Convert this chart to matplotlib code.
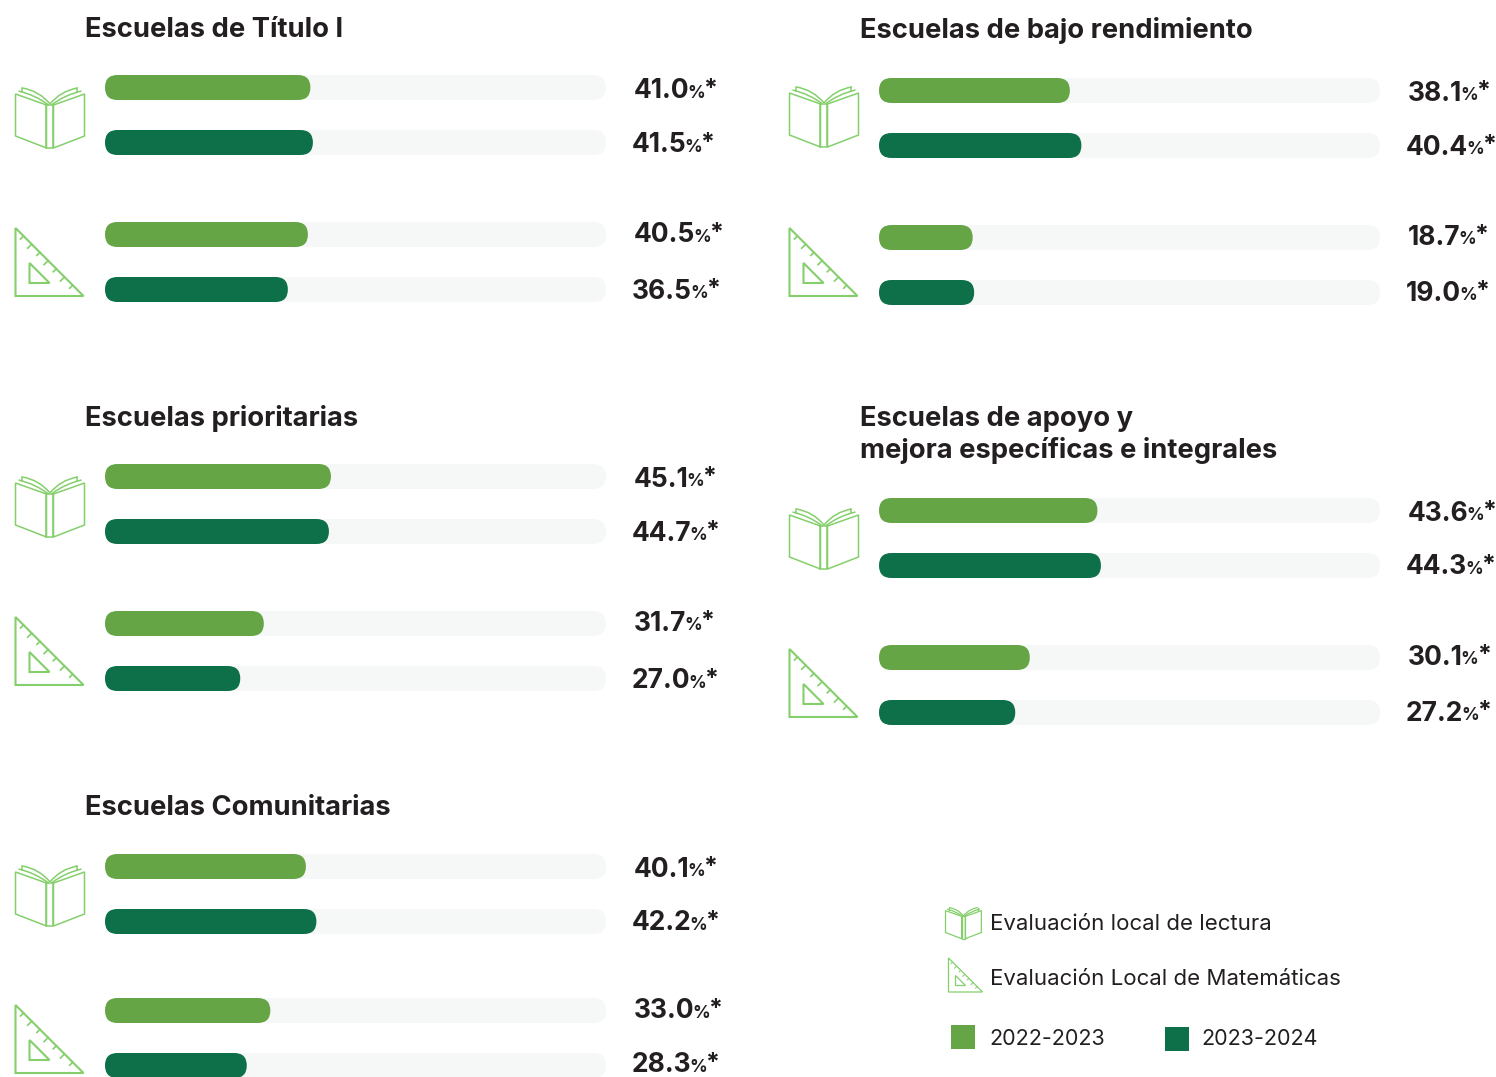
import matplotlib
matplotlib.use('Agg')
import matplotlib.pyplot as plt
from matplotlib.patches import FancyBboxPatch, Rectangle, Polygon
from matplotlib.path import Path
from matplotlib.patches import PathPatch

titulo_i = [41.0, 41.5, 40.5, 36.5]
bajo_rendimiento = [38.1, 40.4, 18.7, 19.0]
prioritarias = [45.1, 44.7, 31.7, 27.0]
apoyo_mejora = [43.6, 44.3, 30.1, 27.2]
comunitarias = [40.1, 42.2, 33.0, 28.3]

titles = ['Escuelas de Título I', 'Escuelas de bajo rendimiento', 'Escuelas prioritarias',
          'Escuelas de apoyo y\nmejora específicas e integrales', 'Escuelas Comunitarias']
legend_icons = ['Evaluación local de lectura', 'Evaluación Local de Matemáticas']
legend_years = ['2022-2023', '2023-2024']

LIGHT = '#65a545'
DARK = '#0d7048'
TRACK = '#f6f8f7'
ICON = '#84cf6c'
INK = '#231f20'
FONT = 'Inter'
BAR_W = 501
BAR_H = 25

fig = plt.figure(figsize=(14.96, 10.77), dpi=100)
ax = fig.add_axes([0, 0, 1, 1])
ax.set_xlim(0, 1496)
ax.set_ylim(1077, 0)
ax.axis('off')


def rounded(x, yc, w, color):
    ax.add_patch(FancyBboxPatch((x, yc - BAR_H / 2 + 0.5), w, BAR_H, boxstyle='round,pad=0,rounding_size=12.5',
                                fc=color, ec='none', mutation_aspect=1))


def book(x, y, s=1.0, lw=1.1):
    def P(pts):
        return [(x + 0.5 + a * s, y + b * s) for a, b in pts]
    for pts in ([(0, 7), (31, 18), (31, 61), (0, 49)],
                [(69, 7), (38, 18), (38, 61), (69, 49)],
                [(31, 18), (38, 18), (38, 61), (31, 61)]):
        ax.add_patch(Polygon(P(pts), closed=True, fc='none', ec=ICON, lw=lw))
    for a, b, c in [((34.5, 17), (24, 4), (7, 1)), ((34.5, 17), (45, 4), (62, 1)),
                    ((33, 18), (20, 8), (3, 4)), ((36, 18), (49, 8), (66, 4))]:
        verts = P([a, b, c])
        ax.add_patch(PathPatch(Path(verts, [Path.MOVETO, Path.CURVE3, Path.CURVE3]), fc='none', ec=ICON, lw=lw))
    ax.plot(*zip(*P([(7, 1), (7, 5)])), color=ICON, lw=lw)
    ax.plot(*zip(*P([(62, 1), (62, 5)])), color=ICON, lw=lw)


def square(x, y, s=1.0, lw=1.5):
    def P(pts):
        return [(x + 0.5 + a * s, y + b * s) for a, b in pts]
    ax.add_patch(Polygon(P([(0, 0), (68, 68), (0, 68)]), closed=True, fc='none', ec=ICON, lw=lw))
    ax.add_patch(Polygon(P([(14, 35), (34, 55), (14, 55)]), closed=True, fc='none', ec=ICON, lw=lw))
    for t in range(7):
        a = 8 + t * 8.2
        k = 4 if t % 2 else 3
        ax.plot(*zip(*P([(a, a), (a - k, a + k)])), color=ICON, lw=lw * 0.8)


def label(x, y, value):
    r = fig.canvas.get_renderer()
    num = ax.text(x, y, f'{value:.1f}', fontsize=19, fontweight='bold', color=INK, family=FONT, va='center', ha='left')
    x1 = ax.transData.inverted().transform(num.get_window_extent(r))[1][0]
    pct = ax.text(x1 - 2, y + 2, '%', fontsize=12.5, fontweight='bold', color=INK, family=FONT, va='center', ha='left')
    x2 = ax.transData.inverted().transform(pct.get_window_extent(r))[1][0]
    ax.text(x2 - 2, y - 2, '*', fontsize=18, fontweight='bold', color=INK, family=FONT, va='center', ha='left')


def panel(x0, rows, values, label_x, label_dy, title, title_xy, icon_x, book_y, tri_y):
    ax.text(title_xy[0], title_xy[1], title, fontsize=19.7, fontweight='bold', color=INK, family=FONT,
            va='center', ha='left', linespacing=1.2)
    for i, (yc, v) in enumerate(zip(rows, values)):
        rounded(x0, yc, BAR_W, TRACK)
        rounded(x0, yc, v / 100 * BAR_W, LIGHT if i % 2 == 0 else DARK)
        label(label_x[i % 2], yc + label_dy[i] + 2, v)
    book(icon_x, book_y)
    square(icon_x, tri_y)


panel(105, [87, 142, 234, 289], titulo_i, (634, 632), (2, 1, -1, 1), titles[0], (85, 30), 15, 87, 228)
panel(879, [90, 145, 237, 292], bajo_rendimiento, (1408, 1406), (2, 1, -1, 0), titles[1], (860, 31), 789, 86, 228)
panel(105, [476, 531, 623, 678], prioritarias, (634, 632), (2, 1, -1, 1), titles[2], (85, 419), 15, 476, 617)
panel(879, [510, 565, 657, 712], apoyo_mejora, (1408, 1406), (2, 0, -1, 0), titles[3], (860, 435), 789, 508, 649)
panel(105, [866, 921, 1010, 1065], comunitarias, (634, 632), (2, 0, -1, -2), titles[4], (85, 808), 15, 865, 1005)

book(945, 907, 0.52, 0.9)
square(948, 958, 0.5, 0.9)
ax.text(990, 924, legend_icons[0], fontsize=16, color=INK, family=FONT, va='center')
ax.text(990, 979, legend_icons[1], fontsize=16, color=INK, family=FONT, va='center')
ax.add_patch(Rectangle((951, 1025), 24, 24, fc=LIGHT, ec='none'))
ax.add_patch(Rectangle((1165, 1027), 24, 24, fc=DARK, ec='none'))
ax.text(989, 1039, legend_years[0], fontsize=15.5, color=INK, family=FONT, va='center')
ax.text(1201, 1039, legend_years[1], fontsize=15.5, color=INK, family=FONT, va='center')

fig.savefig('out.png', dpi=100)
